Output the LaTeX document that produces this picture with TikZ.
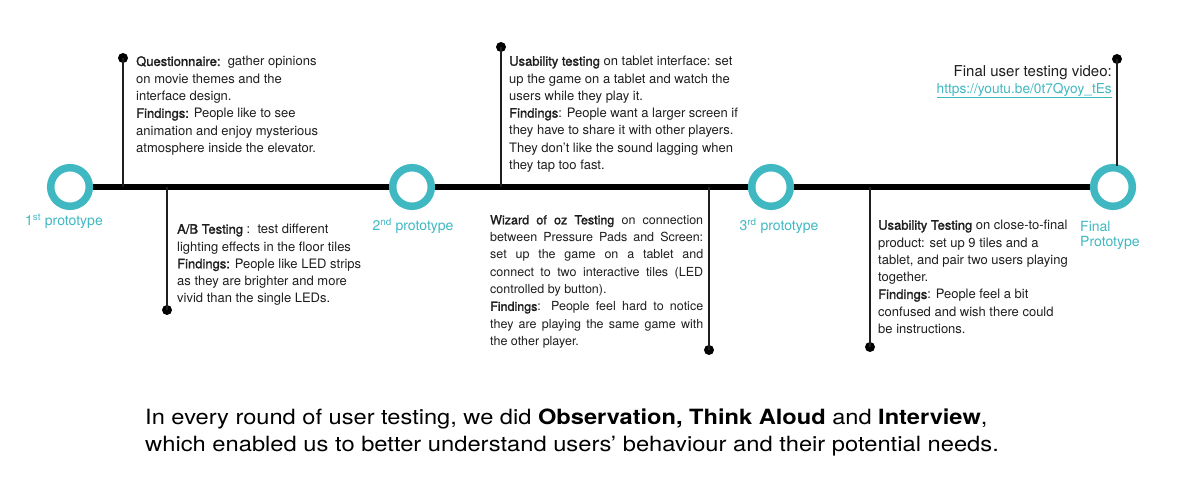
\documentclass[tikz,border=0pt]{standalone}
\usepackage{fontspec}
\setmainfont{TeX Gyre Heros}
\newfontfamily\medfont[FakeBold=1.6]{TeX Gyre Heros}
\newcommand\md[1]{{\medfont #1}}
\usetikzlibrary{backgrounds}
\definecolor{tealring}{HTML}{3FB8C1}
\definecolor{ink}{HTML}{1E1E1E}
\begin{document}
\begin{tikzpicture}[x=1pt,y=-1pt,
  ring/.style={circle, draw=tealring, line width=7.5pt, fill=white, minimum size=38.6pt, inner sep=0pt},
  dot/.style={circle, fill=black, minimum size=10pt, inner sep=0pt},
  stem/.style={line width=1.3pt, draw=ink},
  body/.style={anchor=north west, inner sep=0pt, align=left, font=\fontsize{13}{17.3}\selectfont, text=ink},
  plabel/.style={text=tealring, font=\fontsize{14}{15.5}\selectfont, inner sep=0pt}]
\useasboundingbox (0,0) rectangle (1200,502);

% prototype rings
\node[ring] (p1) at (70,187) {};
\node[ring] (p2) at (412,187) {};
\node[ring] (p3) at (771,187) {};
\node[ring] (p4) at (1113,187) {};
\begin{scope}[on background layer]
  \draw[line width=6pt, black] (p1.center) -- (p2.center) -- (p3.center) -- (p4.center);
\end{scope}

% prototype labels
\node[plabel] (l1) at (64,221) {1\textsuperscript{st} prototype};
\node[plabel] (l2) at (413,226) {2\textsuperscript{nd} prototype};
\node[plabel] (l3) at (779,226) {3\textsuperscript{rd} prototype};
\node[plabel, anchor=north west, align=left] (l4) at (1080,221) {Final\\Prototype};

% stems and dots
\coordinate (t1) at (123,187);
\coordinate (t2) at (167,187);
\coordinate (t3) at (501,187);
\coordinate (t4) at (709,187);
\coordinate (t5) at (870,187);
\coordinate (t6) at (1117,166);
\node[dot] (d1) at (123,58) {};
\node[dot] (d2) at (167,310) {};
\node[dot] (d3) at (501,47) {};
\node[dot] (d4) at (709,350) {};
\node[dot] (d5) at (870,347) {};
\node[dot] (d6) at (1117,59) {};
\draw[stem] (d1.center) -- (t1);
\draw[stem] (d2.center) -- (t2);
\draw[stem] (d3.center) -- (t3);
\draw[stem] (d4.center) -- (t4);
\draw[stem] (d5.center) -- (t5);
\draw[stem] (d6.center) -- (t6);

% text blocks
\node[body] (b1) at (136,56) {\md{Questionnaire:}\ \ gather opinions\\on movie themes and the\\interface design.\\\md{Findings:} People like to see\\animation and enjoy mysterious\\atmosphere inside the elevator.};

\node[body] (b2) at (177,224) {\md{A/B Testing} :\ \ test different\\lighting effects in the floor tiles\\\md{Findings:} People like LED strips\\as they are brighter and more\\vivid than the single LEDs.};

\node[body] (b3) at (509,56) {\md{Usability testing} on tablet interface: set\\up the game on a tablet and watch the\\users while they play it.\\\md{Findings}: People want a larger screen if\\they have to share it with other players.\\They don’t like the sound lagging when\\they tap too fast.};

\node[body, font=\fontsize{12.5}{17.3}\selectfont] (b4) at (490,215) {\makebox[213pt][s]{\md{Wizard of oz Testing} on connection}\\\makebox[213pt][s]{between Pressure Pads and Screen:}\\\makebox[213pt][s]{set up the game on a tablet and}\\\makebox[213pt][s]{connect to two interactive tiles (LED}\\controlled by button).\\\makebox[213pt][s]{\md{Findings}: People feel hard to notice}\\\makebox[213pt][s]{they are playing the same game with}\\the other player.};

\node[body] (b5) at (878,220) {\md{Usability Testing} on close-to-final\\product: set up 9 tiles and a\\tablet, and pair two users playing\\together.\\\md{Findings}: People feel a bit\\confused and wish there could\\be instructions.};

\node[anchor=north east, inner sep=0pt, align=right, font=\fontsize{15}{17}\selectfont, text=ink] (b6) at (1112,65) {Final user testing video:\\{\fontsize{13.7}{17}\selectfont\color{tealring}\underline{https://youtu.be/0t7Qyoy\_tEs}}};

% bottom summary
\node[anchor=north west, inner sep=0pt, align=left, font=\fontsize{21}{27}\selectfont, text=black] (sum) at (145,409) {\scalebox{1.125}[1]{In every round of user testing, we did \textbf{Observation, Think Aloud} and \textbf{Interview},}\\\scalebox{1.13}[1]{which enabled us to better understand users’ behaviour and their potential needs.}};
\end{tikzpicture}
\end{document}
